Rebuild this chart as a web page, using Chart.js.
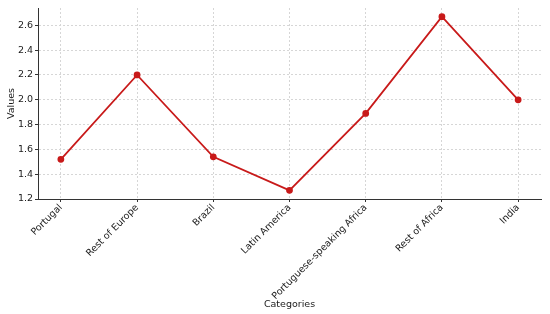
<!DOCTYPE html>
<html>
<head>
<meta charset="utf-8">
<script src="https://cdn.jsdelivr.net/npm/chart.js@4/dist/chart.umd.min.js"></script>
<style>
  html, body { margin: 0; padding: 0; background: #fff; }
  #wrap { width: 550px; height: 314px; }
</style>
</head>
<body>
<div id="wrap"><canvas id="chart"></canvas></div>
<script>
const categories = ["Portugal", "Rest of Europe", "Brazil", "Latin America", "Portuguese-speaking Africa", "Rest of Africa", "India"];
const values = [1.52, 2.20, 1.54, 1.27, 1.89, 2.67, 2.00];
const yTicks = [1.2, 1.4, 1.6, 1.8, 2.0, 2.2, 2.4, 2.6];

const font = { family: "DejaVu Sans", size: 9.5 };

new Chart(document.getElementById("chart"), {
  type: "line",
  data: {
    datasets: [
      {
        data: values.map((v, i) => ({ x: i, y: v })),
        borderColor: "#c81a1a",
        backgroundColor: "#c81a1a",
        borderWidth: 1.8,
        pointRadius: 2.5,
        pointHoverRadius: 2.5,
        tension: 0,
      },
    ],
  },
  options: {
    responsive: true,
    maintainAspectRatio: false,
    animation: false,
    layout: { padding: { top: 8, right: 9, left: 6, bottom: 4 } },
    plugins: { legend: { display: false }, tooltip: { enabled: false } },
    scales: {
      x: {
        type: "linear",
        min: -0.3,
        max: 6.3,
        afterBuildTicks: (axis) => {
          axis.ticks = categories.map((c, i) => ({ value: i }));
        },
        afterFit: (axis) => {
          axis.height = 111;
        },
        ticks: {
          autoSkip: false,
          maxRotation: 45,
          minRotation: 45,
          color: "#1a1a1a",
          font,
          padding: 0,
          callback: (v) => categories[v] ?? "",
        },
        grid: { color: "#d6d6d6", tickColor: "#333", tickLength: 3 },
        border: { color: "#333", width: 1, dash: [2, 2] },
        title: { display: true, text: "Categories", color: "#1a1a1a", font, padding: { top: 4, bottom: 0 } },
      },
      y: {
        min: 1.2,
        max: 2.74,
        afterBuildTicks: (axis) => {
          axis.ticks = yTicks.map((v) => ({ value: v }));
        },
        afterFit: (axis) => {
          axis.width = 32;
        },
        ticks: {
          color: "#1a1a1a",
          font,
          padding: 2,
          callback: (v) => v.toFixed(1),
        },
        grid: { color: "#d6d6d6", tickColor: "#333", tickLength: 3 },
        border: { color: "#333", width: 1, dash: [2, 2] },
        title: { display: true, text: "Values", color: "#1a1a1a", font, padding: { top: 0, bottom: 2 } },
      },
    },
  },
});
</script>
</body>
</html>
